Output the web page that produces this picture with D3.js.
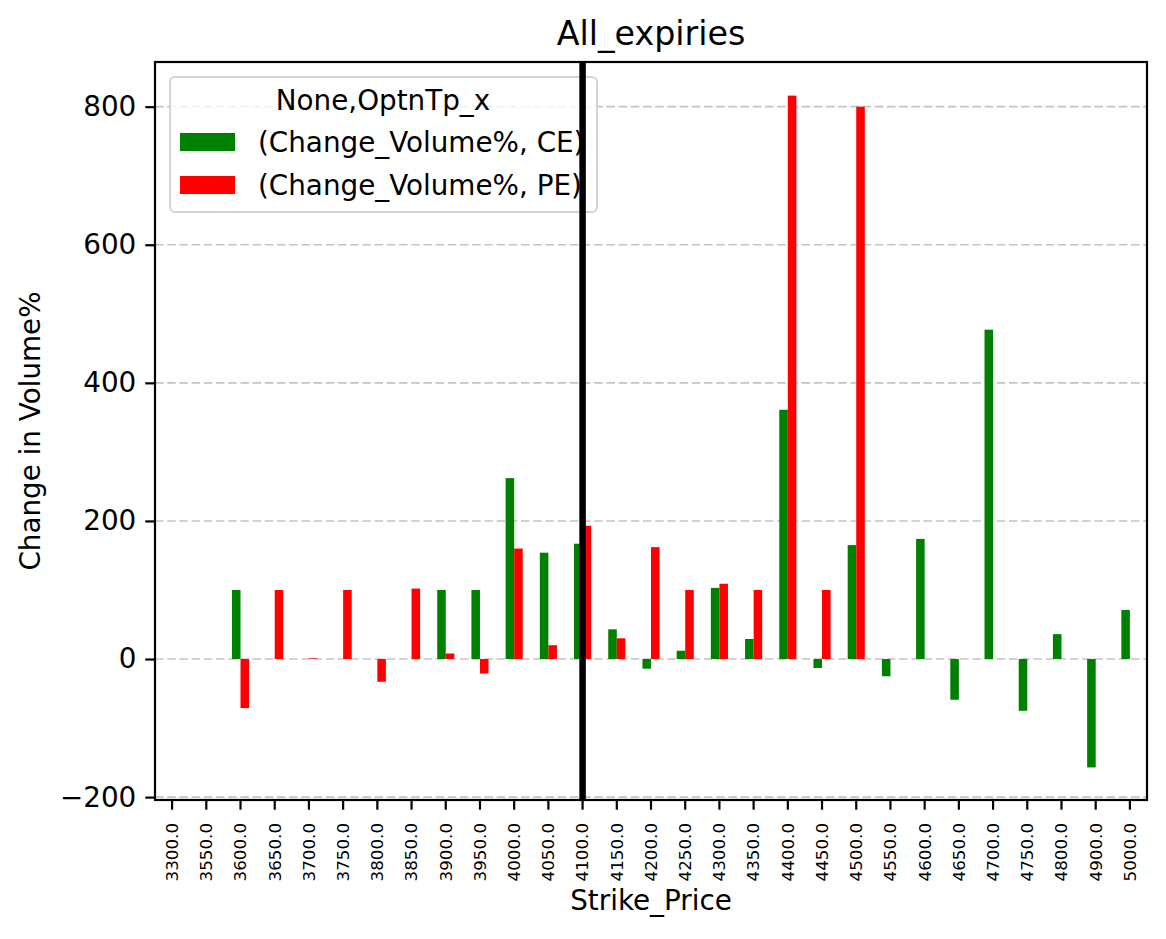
<!DOCTYPE html>
<html>
<head>
<meta charset="utf-8">
<script src="https://cdn.jsdelivr.net/npm/d3@7"></script>
<style>
  html, body { margin: 0; padding: 0; background: #fff; overflow: hidden; }
  svg { display: block; }
  text { font-family: "DejaVu Sans", sans-serif; }
</style>
</head>
<body>
<div id="chart"></div>
<script>
// data
const strikes = [3300, 3550, 3600, 3650, 3700, 3750, 3800, 3850, 3900, 3950, 4000, 4050, 4100, 4150, 4200,
  4250, 4300, 4350, 4400, 4450, 4500, 4550, 4600, 4650, 4700, 4750, 4800, 4900, 5000]
const ceValues = [null, null, 100, null, null, null, null, null, 100, 100, 262, 154, 167, 43, -14,
  12, 103, 29, 361, -13, 165, -25, 174, -59, 477, -75, 36, -157, 71]
const peValues = [null, null, -71, 100, 1, 100, -33, 102, 8, -21, 160, 20, 193, 30, 162,
  100, 109, 100, 816, 100, 800, null, null, null, null, null, null, null, null]
const yTicks = [-200, 0, 200, 400, 600, 800]
const spotStrike = 4100
const seriesNames = ["(Change_Volume%, CE)", "(Change_Volume%, PE)"]
const seriesColors = ["green", "red"]

const w = 1166
const h = 939
const margin = {top: 62, right: 19, bottom: 139, left: 155}
const innerWidth = w - margin.left - margin.right
const innerHeight = h - margin.top - margin.bottom

const svg = d3.select("#chart")
    .append("svg")
    .attr("width", w)
    .attr("height", h)

const g = svg.append("g")
    .attr("transform", `translate(${margin.left},${margin.top})`)

const x = d3.scaleBand()
    .domain(strikes)
    .range([0, innerWidth])

const y = d3.scaleLinear()
    .domain([-204.2, 864.7])
    .range([innerHeight, 0])

// grid lines
g.append("g")
    .selectAll("line")
    .data(yTicks)
    .enter().append("line")
    .attr("x1", 0)
    .attr("x2", innerWidth)
    .attr("y1", d => y(d))
    .attr("y2", d => y(d))
    .attr("stroke", "#c4c4c4")
    .attr("stroke-width", 1.6)
    .attr("stroke-dasharray", "8.5,3.7")

// bars: half of the band, split between the two series
const barW = x.bandwidth() * 0.25
const series = [ceValues, peValues]
series.forEach((vals, i) => {
  const rows = strikes.map((s, j) => ({s: s, v: vals[j]})).filter(d => d.v !== null)
  g.append("g")
    .selectAll("rect")
    .data(rows)
    .enter().append("rect")
    .attr("x", d => x(d.s) + x.bandwidth() / 2 - barW + i * barW)
    .attr("y", d => y(Math.max(0, d.v)))
    .attr("width", barW)
    .attr("height", d => Math.abs(y(d.v) - y(0)))
    .attr("fill", seriesColors[i])
})

// x axis
const xAxis = g.append("g")
    .attr("transform", `translate(0,${innerHeight})`)
    .call(d3.axisBottom(x).tickSize(9.7).tickFormat(d => d.toFixed(1)))
xAxis.select(".domain").remove()
xAxis.selectAll("line").attr("stroke-width", 2.2)
xAxis.selectAll("text")
    .attr("font-size", "16.7px")
    .attr("fill", "#000")
    .attr("transform", "rotate(-90)")
    .attr("text-anchor", "end")
    .attr("x", -23)
    .attr("y", 0)
    .attr("dy", "0.35em")

// y axis
const yAxis = g.append("g")
    .call(d3.axisLeft(y).tickValues(yTicks).tickSize(9.7).tickPadding(9)
      .tickFormat(d => d < 0 ? "\u2212" + Math.abs(d) : d))
yAxis.select(".domain").remove()
yAxis.selectAll("line").attr("stroke-width", 2.2)
yAxis.selectAll("text")
    .attr("font-size", "27.8px")
    .attr("fill", "#000")

// frame
g.append("rect")
    .attr("width", innerWidth)
    .attr("height", innerHeight)
    .attr("fill", "none")
    .attr("stroke", "#000")
    .attr("stroke-width", 2.2)

// legend
const legend = g.append("g")
    .attr("transform", "translate(15,15)")
legend.append("rect")
    .attr("width", 427)
    .attr("height", 135)
    .attr("rx", 5)
    .attr("fill", "#fff")
    .attr("fill-opacity", 0.8)
    .attr("stroke", "#d4d4d4")
    .attr("stroke-width", 2)
legend.append("text")
    .attr("x", 213)
    .attr("y", 33)
    .attr("text-anchor", "middle")
    .attr("font-size", "27.8px")
    .text("None,OptnTp_x")
seriesNames.forEach((name, i) => {
  legend.append("rect")
    .attr("x", 10)
    .attr("y", 56 + i * 43)
    .attr("width", 55)
    .attr("height", 18)
    .attr("fill", seriesColors[i])
  legend.append("text")
    .attr("x", 88)
    .attr("y", 75 + i * 43)
    .attr("font-size", "27.8px")
    .text(name)
})

// spot strike marker
g.append("line")
    .attr("x1", x(spotStrike) + x.bandwidth() / 2)
    .attr("x2", x(spotStrike) + x.bandwidth() / 2)
    .attr("y1", 0)
    .attr("y2", innerHeight)
    .attr("stroke", "#000")
    .attr("stroke-width", 6.5)

// titles
svg.append("text")
    .attr("x", margin.left + innerWidth / 2)
    .attr("y", 45)
    .attr("text-anchor", "middle")
    .attr("font-size", "33.3px")
    .text("All_expiries")

svg.append("text")
    .attr("x", margin.left + innerWidth / 2)
    .attr("y", 910)
    .attr("text-anchor", "middle")
    .attr("font-size", "27.8px")
    .text("Strike_Price")

svg.append("text")
    .attr("transform", `translate(40,${margin.top + innerHeight / 2}) rotate(-90)`)
    .attr("text-anchor", "middle")
    .attr("font-size", "27.8px")
    .text("Change in Volume%")
</script>
</body>
</html>
